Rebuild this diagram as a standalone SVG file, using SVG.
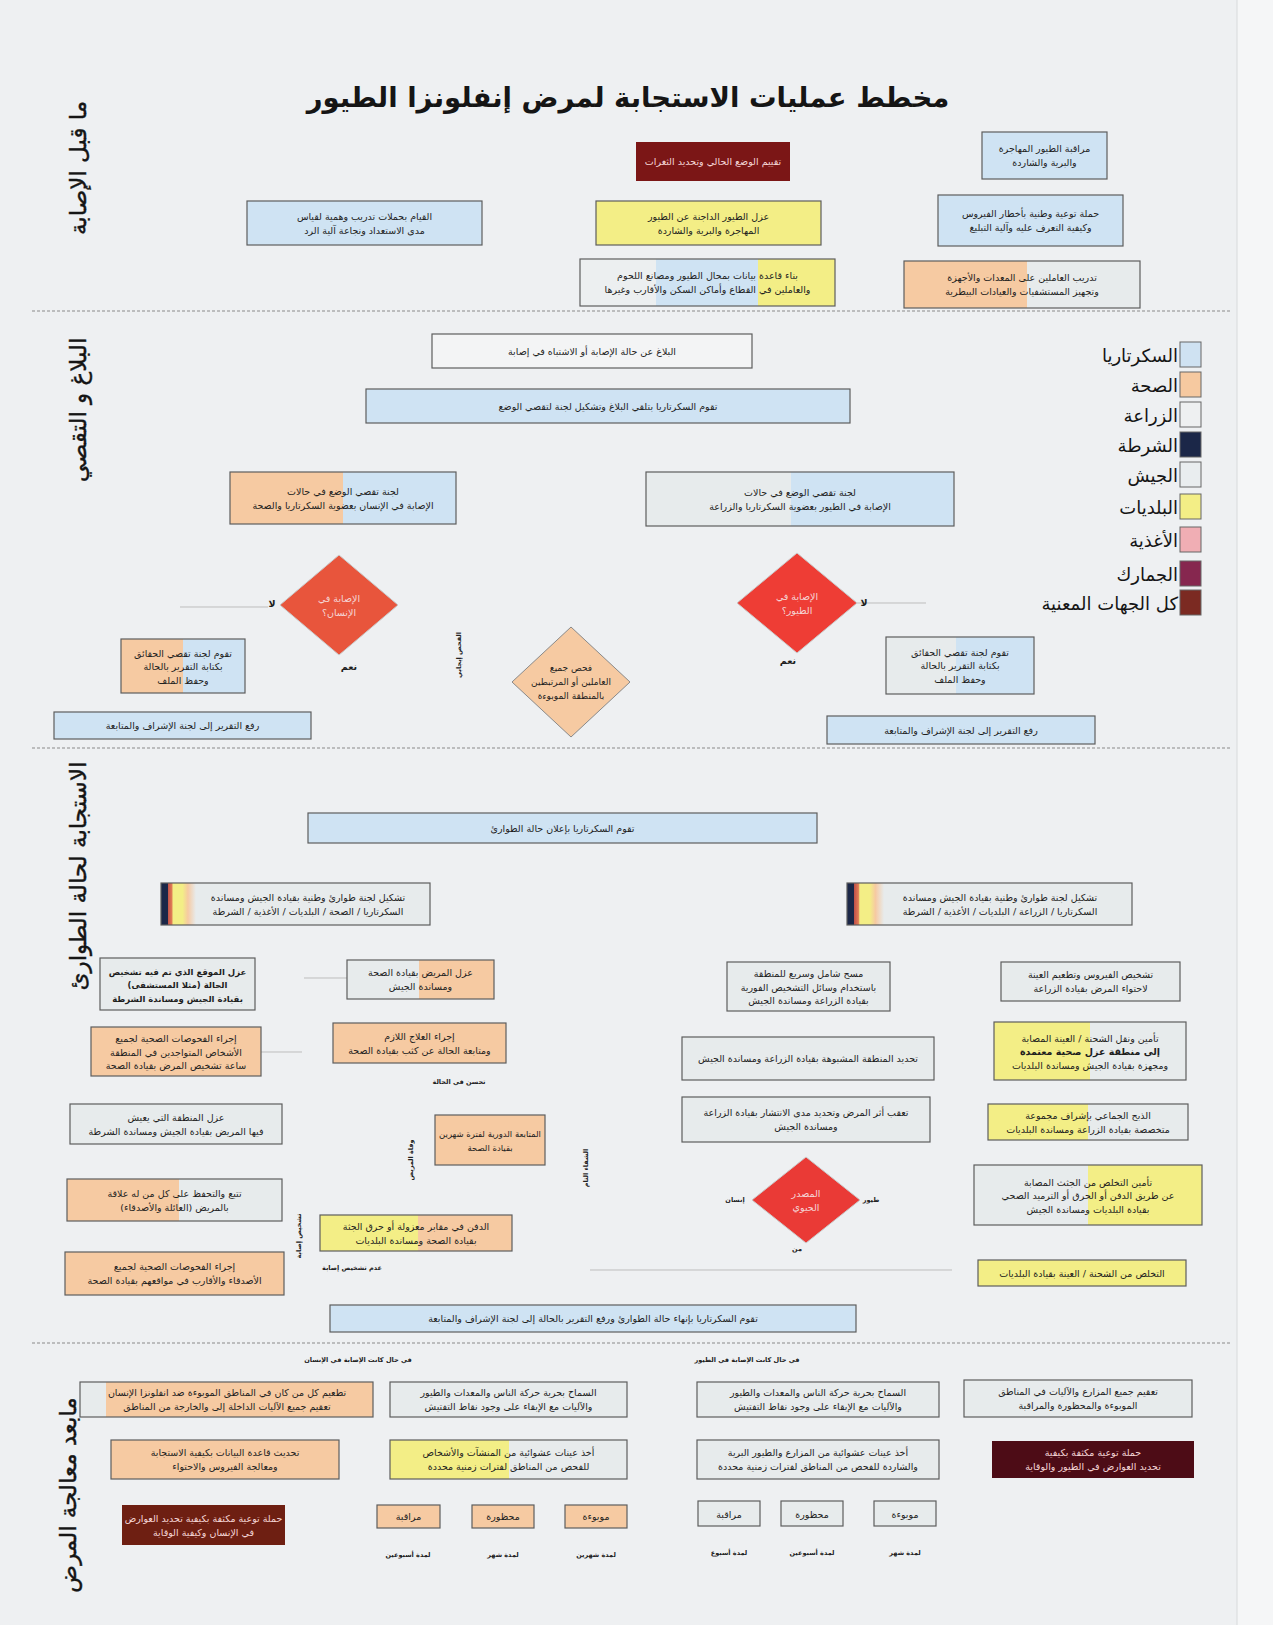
<svg xmlns="http://www.w3.org/2000/svg" width="1273" height="1625" viewBox="0 0 1273 1625">
<style>
.bx{stroke:#5e5e5e;stroke-width:1.2}
.t{font-family:"DejaVu Sans",sans-serif;font-size:9.5px;fill:#1e1e1e;text-anchor:middle;direction:rtl}
.tb{font-weight:bold}
.tw{fill:#f5d6d6}
.sm{font-family:"DejaVu Sans",sans-serif;font-size:6.5px;fill:#222;text-anchor:middle;direction:rtl;font-weight:bold}
.sec{font-family:"DejaVu Sans",sans-serif;font-size:23px;fill:#151515;text-anchor:middle;direction:rtl;stroke:#151515;stroke-width:0.4}
.lg{font-family:"DejaVu Sans",sans-serif;font-size:18px;fill:#151515;text-anchor:end}
.title{font-family:"DejaVu Sans",sans-serif;font-size:27.5px;font-weight:bold;fill:#151515;text-anchor:middle;direction:rtl}
.div{stroke:#8a8a8a;stroke-width:1;stroke-dasharray:3 2}
.con{stroke:#bdbdbd;stroke-width:1;fill:none}
.blue{fill:#cfe3f3}.peach{fill:#f6caa2}.gray{fill:#e7ebec}.yellow{fill:#f3ee86}.white{fill:#f3f4f5}
</style>
<defs>
<linearGradient id="gPB" x1="0" x2="1" y1="0" y2="0"><stop offset="0.5" stop-color="#f6caa2"/><stop offset="0.5" stop-color="#cfe3f3"/></linearGradient>
<linearGradient id="gGB" x1="0" x2="1" y1="0" y2="0"><stop offset="0.47" stop-color="#e7ebec"/><stop offset="0.47" stop-color="#cfe3f3"/></linearGradient>
<linearGradient id="gGPe" x1="0" x2="1" y1="0" y2="0"><stop offset="0.49" stop-color="#e7ebec"/><stop offset="0.49" stop-color="#f6caa2"/></linearGradient>
<linearGradient id="gGPe2" x1="0" x2="1" y1="0" y2="0"><stop offset="0.09" stop-color="#e7ebec"/><stop offset="0.09" stop-color="#f6caa2"/></linearGradient>
<linearGradient id="gPeG" x1="0" x2="1" y1="0" y2="0"><stop offset="0.52" stop-color="#f6caa2"/><stop offset="0.52" stop-color="#e7ebec"/></linearGradient>
<linearGradient id="gYPe" x1="0" x2="1" y1="0" y2="0"><stop offset="0.51" stop-color="#f3ee86"/><stop offset="0.51" stop-color="#f6caa2"/></linearGradient>
<linearGradient id="gYG" x1="0" x2="1" y1="0" y2="0"><stop offset="0.5" stop-color="#f3ee86"/><stop offset="0.5" stop-color="#e7ebec"/></linearGradient>
<linearGradient id="gGY" x1="0" x2="1" y1="0" y2="0"><stop offset="0.5" stop-color="#e7ebec"/><stop offset="0.5" stop-color="#f3ee86"/></linearGradient>
<linearGradient id="gWBY" x1="0" x2="1" y1="0" y2="0"><stop offset="0.3" stop-color="#eceff0"/><stop offset="0.3" stop-color="#cfe3f3"/><stop offset="0.7" stop-color="#cfe3f3"/><stop offset="0.7" stop-color="#f3ee86"/></linearGradient>
<linearGradient id="gStripe" x1="0" x2="1" y1="0" y2="0"><stop offset="0" stop-color="#1b2748"/><stop offset="0.025" stop-color="#1b2748"/><stop offset="0.025" stop-color="#c0504a"/><stop offset="0.04" stop-color="#e07a55"/><stop offset="0.045" stop-color="#f3ee86"/><stop offset="0.08" stop-color="#f3ee86"/><stop offset="0.1" stop-color="#f6caa2"/><stop offset="0.13" stop-color="#e7ebec"/><stop offset="1" stop-color="#e7ebec"/></linearGradient>
</defs>

<rect x="0" y="0" width="1273" height="1625" fill="#eef0f2"/>
<rect x="1237" y="0" width="36" height="1625" fill="#f5f6f7"/>
<line x1="1237" y1="0" x2="1237" y2="1625" stroke="#d8dadc" stroke-width="1"/>

<text class="title" x="628" y="107">مخطط عمليات الاستجابة لمرض إنفلونزا الطيور</text>

<g id="dividers">
<line class="div" x1="32" y1="311" x2="1232" y2="311"/>
<line class="div" x1="32" y1="748" x2="1232" y2="748"/>
<line class="div" x1="32" y1="1343" x2="1232" y2="1343"/>
</g>

<g id="legend">
<rect x="1180" y="342" width="21" height="25" fill="#cfe2f2" stroke="#666"/><text class="lg" x="1178" y="362">السكرتاريا</text>
<rect x="1180" y="372" width="21" height="25" fill="#f6c9a0" stroke="#666"/><text class="lg" x="1178" y="392">الصحة</text>
<rect x="1180" y="402" width="21" height="25" fill="#eef0f1" stroke="#666"/><text class="lg" x="1178" y="422">الزراعة</text>
<rect x="1180" y="432" width="21" height="25" fill="#1b2748" stroke="#666"/><text class="lg" x="1178" y="452">الشرطة</text>
<rect x="1180" y="462" width="21" height="25" fill="#e9edef" stroke="#666"/><text class="lg" x="1178" y="482">الجيش</text>
<rect x="1180" y="494" width="21" height="25" fill="#f3ee86" stroke="#666"/><text class="lg" x="1178" y="514">البلديات</text>
<rect x="1180" y="527" width="21" height="25" fill="#f0aeb4" stroke="#666"/><text class="lg" x="1178" y="547">الأغذية</text>
<rect x="1180" y="561" width="21" height="25" fill="#86274f" stroke="#666"/><text class="lg" x="1178" y="581">الجمارك</text>
<rect x="1180" y="590" width="21" height="25" fill="#7b2a22" stroke="#666"/><text class="lg" x="1178" y="610">كل الجهات المعنية</text>
</g>

<g id="connectors">
<line class="con" x1="180" y1="607" x2="268" y2="607"/>
<line class="con" x1="857" y1="603" x2="926" y2="603"/>
<line class="con" x1="304" y1="978" x2="347" y2="978"/>
<line class="con" x1="261" y1="1052" x2="302" y2="1052"/>
<line class="con" x1="590" y1="1270" x2="952" y2="1270"/>
</g>

<g id="n1"><rect x="636" y="142" width="154" height="39" fill="#7b1616"/><text class="t tw" x="713" y="165">تقييم الوضع الحالي وتحديد الثغرات</text></g>
<g id="n2"><rect class="bx blue" x="982" y="132" width="125" height="47"/><text class="t" x="1044.5" y="152">مراقبة الطيور المهاجرة</text><text class="t" x="1044.5" y="166">والبرية والشاردة</text></g>
<g id="n3"><rect class="bx blue" x="247" y="201" width="235" height="44"/><text class="t" x="364.5" y="219.5">القيام بحملات تدريب وهمية لقياس</text><text class="t" x="364.5" y="233.5">مدى الاستعداد ونجاعة آلية الرد</text></g>
<g id="n4"><rect class="bx yellow" x="596" y="201" width="225" height="44"/><text class="t" x="708.5" y="219.5">عزل الطيور الداجنة عن الطيور</text><text class="t" x="708.5" y="233.5">المهاجرة والبرية والشاردة</text></g>
<g id="n5"><rect class="bx blue" x="938" y="195" width="185" height="51"/><text class="t" x="1030.5" y="217">حملة توعية وطنية بأخطار الفيروس</text><text class="t" x="1030.5" y="231">وكيفية التعرف عليه وآلية التبليغ</text></g>
<g id="n6"><rect class="bx" fill="url(#gWBY)" x="580" y="259" width="255" height="47"/><text class="t" x="707.5" y="279">بناء قاعدة بيانات بمحال الطيور ومصانع اللحوم</text><text class="t" x="707.5" y="293">والعاملين في القطاع وأماكن السكن والأقارب وغيرها</text></g>
<g id="n7"><rect class="bx" fill="url(#gPeG)" x="904" y="261" width="236" height="47"/><text class="t" x="1022" y="281">تدريب العاملين على المعدات والأجهزة</text><text class="t" x="1022" y="295">وتجهيز المستشفيات والعيادات البيطرية</text></g>

<g id="n8"><rect class="bx white" x="432" y="334" width="320" height="34"/><text class="t" x="592" y="354.5">البلاغ عن حالة الإصابة أو الاشتباه في إصابة</text></g>
<g id="n9"><rect class="bx blue" x="366" y="389" width="484" height="34"/><text class="t" x="608" y="409.5">تقوم السكرتاريا بتلقي البلاغ وتشكيل لجنة لتقصي الوضع</text></g>
<g id="n10"><rect class="bx" fill="url(#gPB)" x="230" y="472" width="226" height="52"/><text class="t" x="343" y="494.5">لجنة تقصي الوضع في حالات</text><text class="t" x="343" y="508.5">الإصابة في الإنسان بعضوية السكرتاريا والصحة</text></g>
<g id="n11"><rect class="bx" fill="url(#gGB)" x="646" y="472" width="308" height="54"/><text class="t" x="800" y="495.5">لجنة تقصي الوضع في حالات</text><text class="t" x="800" y="509.5">الإصابة في الطيور بعضوية السكرتاريا والزراعة</text></g>

<g id="d1"><polygon points="339,555 398,605 339,655 280,605" fill="#e8553c" stroke="#c9c9c9"/><text class="t tw" x="339" y="602">الإصابة في</text><text class="t tw" x="339" y="616">الإنسان؟</text></g>
<g id="d2"><polygon points="797,553 857,603 797,653 737,603" fill="#ee3d35" stroke="#c9c9c9"/><text class="t tw" x="797" y="600">الإصابة في</text><text class="t tw" x="797" y="614">الطيور؟</text></g>
<g id="d3"><polygon points="571,627 630,682 571,737 512,682" fill="#f6caa2" stroke="#8a8a8a"/><text class="t" x="571" y="671" style="font-size:9px">فحص جميع</text><text class="t" x="571" y="685" style="font-size:9px">العاملين أو المرتبطين</text><text class="t" x="571" y="699" style="font-size:9px">بالمنطقة الموبوءة</text></g>
<g id="lbl-d"><text class="t tb" x="272" y="607">لا</text><text class="t tb" x="349" y="670">نعم</text><text class="t tb" x="864" y="606">لا</text><text class="t tb" x="788" y="664">نعم</text><text class="sm" transform="translate(461,655) rotate(-90)">الفحص إيجابي</text></g>

<g id="n12"><rect class="bx" fill="url(#gPB)" x="121" y="639" width="124" height="54"/><text class="t" x="183" y="656.5">تقوم لجنة تقصي الحقائق</text><text class="t" x="183" y="670">بكتابة التقرير بالحالة</text><text class="t" x="183" y="683.5">وحفظ الملف</text></g>
<g id="n13"><rect class="bx" fill="url(#gGB)" x="886" y="637" width="148" height="57"/><text class="t" x="960" y="655.5">تقوم لجنة تقصي الحقائق</text><text class="t" x="960" y="669">بكتابة التقرير بالحالة</text><text class="t" x="960" y="682.5">وحفظ الملف</text></g>
<g id="n14"><rect class="bx blue" x="54" y="712" width="257" height="27"/><text class="t" x="182.5" y="729">رفع التقرير إلى لجنة الإشراف والمتابعة</text></g>
<g id="n15"><rect class="bx blue" x="827" y="716" width="268" height="28"/><text class="t" x="961" y="733.5">رفع التقرير إلى لجنة الإشراف والمتابعة</text></g>

<g id="n16"><rect class="bx blue" x="308" y="813" width="509" height="30"/><text class="t" x="562.5" y="831.5">تقوم السكرتاريا بإعلان حالة الطوارئ</text></g>
<g id="n17"><rect class="bx" fill="url(#gStripe)" x="161" y="883" width="269" height="42"/><text class="t" x="308" y="900.5">تشكيل لجنة طوارئ وطنية بقيادة الجيش ومساندة</text><text class="t" x="308" y="914.5">السكرتاريا / الصحة / البلديات / الأغذية / الشرطة</text></g>
<g id="n18"><rect class="bx" fill="url(#gStripe)" x="847" y="883" width="285" height="42"/><text class="t" x="1000" y="900.5">تشكيل لجنة طوارئ وطنية بقيادة الجيش ومساندة</text><text class="t" x="1000" y="914.5">السكرتاريا / الزراعة / البلديات / الأغذية / الشرطة</text></g>

<g id="n19"><rect class="bx gray" x="100" y="958" width="155" height="52"/><text class="t tb" x="177.5" y="974.5" style="font-size:8.5px">عزل الموقع الذي تم فيه تشخيص</text><text class="t tb" x="177.5" y="988" style="font-size:8.5px">الحالة (مثلا المستشفى)</text><text class="t tb" x="177.5" y="1001.5" style="font-size:8.5px">بقيادة الجيش ومساندة الشرطة</text></g>
<g id="n20"><rect class="bx" fill="url(#gGPe)" x="347" y="960" width="147" height="39"/><text class="t" x="420.5" y="976">عزل المريض بقيادة الصحة</text><text class="t" x="420.5" y="990">ومساندة الجيش</text></g>
<g id="n21"><rect class="bx peach" x="91" y="1027" width="170" height="49"/><text class="t" x="176" y="1042">إجراء الفحوصات الصحية لجميع</text><text class="t" x="176" y="1055.5">الأشخاص المتواجدين في المنطقة</text><text class="t" x="176" y="1069">ساعة تشخيص المرض بقيادة الصحة</text></g>
<g id="n22"><rect class="bx peach" x="333" y="1023" width="173" height="40"/><text class="t" x="419.5" y="1039.5">إجراء العلاج اللازم</text><text class="t" x="419.5" y="1053.5">ومتابعة الحالة عن كثب بقيادة الصحة</text></g>
<text class="sm" x="459" y="1084">تحسن في الحالة</text>
<g id="n23"><rect class="bx gray" x="70" y="1104" width="212" height="40"/><text class="t" x="176" y="1120.5">عزل المنطقة التي يعيش</text><text class="t" x="176" y="1134.5">فيها المريض بقيادة الجيش ومساندة الشرطة</text></g>
<g id="n24"><rect class="bx peach" x="435" y="1115" width="110" height="50"/><text class="t" x="490" y="1136.5" style="font-size:8.5px">المتابعة الدورية لفترة شهرين</text><text class="t" x="490" y="1150.5" style="font-size:8.5px">بقيادة الصحة</text></g>
<text class="sm" transform="translate(413,1160) rotate(-90)">وفاة المريض</text>
<text class="sm" transform="translate(588,1168) rotate(-90)">الشفاء التام</text>
<g id="n25"><rect class="bx" fill="url(#gPeG)" x="67" y="1179" width="215" height="42"/><text class="t" x="174.5" y="1196.5">تتبع والتحفظ على كل من له علاقة</text><text class="t" x="174.5" y="1210.5">بالمريض (العائلة والأصدقاء)</text></g>
<g id="n26"><rect class="bx" fill="url(#gYPe)" x="320" y="1215" width="192" height="36"/><text class="t" x="416" y="1229.5">الدفن في مقابر معزولة أو حرق الجثة</text><text class="t" x="416" y="1243.5">بقيادة الصحة ومساندة البلديات</text></g>
<text class="sm" transform="translate(301,1236) rotate(-90)">تشخيص إصابة</text>
<text class="sm" x="352" y="1270">عدم تشخيص إصابة</text>
<g id="n27"><rect class="bx peach" x="65" y="1252" width="219" height="43"/><text class="t" x="174.5" y="1270">إجراء الفحوصات الصحية لجميع</text><text class="t" x="174.5" y="1284">الأصدقاء والأقارب في مواقعهم بقيادة الصحة</text></g>
<g id="n28"><rect class="bx blue" x="330" y="1305" width="526" height="27"/><text class="t" x="593" y="1322">تقوم السكرتاريا بإنهاء حالة الطوارئ ورفع التقرير بالحالة إلى لجنة الإشراف والمتابعة</text></g>

<g id="n29"><rect class="bx gray" x="727" y="962" width="163" height="49"/><text class="t" x="808.5" y="977">مسح شامل وسريع للمنطقة</text><text class="t" x="808.5" y="990.5">باستخدام وسائل التشخيص الفورية</text><text class="t" x="808.5" y="1004">بقيادة الزراعة ومساندة الجيش</text></g>
<g id="n30"><rect class="bx gray" x="1001" y="962" width="179" height="39"/><text class="t" x="1090.5" y="978">تشخيص الفيروس وتطعيم العينة</text><text class="t" x="1090.5" y="992">لاحتواء المرض بقيادة الزراعة</text></g>
<g id="n31"><rect class="bx gray" x="682" y="1037" width="252" height="43"/><text class="t" x="808" y="1062">تحديد المنطقة المشبوهة بقيادة الزراعة ومساندة الجيش</text></g>
<g id="n32"><rect class="bx" fill="url(#gYG)" x="994" y="1022" width="192" height="58"/><text class="t" x="1090" y="1041.5">تأمين ونقل الشحنة / العينة المصابة</text><text class="t tb" x="1090" y="1055">إلى منطقة عزل صحية معتمدة</text><text class="t" x="1090" y="1068.5">ومجهزة بقيادة الجيش ومساندة البلديات</text></g>
<g id="n33"><rect class="bx gray" x="682" y="1097" width="248" height="45"/><text class="t" x="806" y="1116">تعقب أثر المرض وتحديد مدى الانتشار بقيادة الزراعة</text><text class="t" x="806" y="1130">ومساندة الجيش</text></g>
<g id="n34"><rect class="bx" fill="url(#gYG)" x="988" y="1104" width="200" height="36"/><text class="t" x="1088" y="1118.5">الذبح الجماعي بإشراف مجموعة</text><text class="t" x="1088" y="1132.5">متخصصة بقيادة الزراعة ومساندة البلديات</text></g>
<g id="d4"><polygon points="806,1157 860,1200 806,1243 752,1200" fill="#ea3a36" stroke="#c9c9c9"/><text class="t tw" x="806" y="1197">المصدر</text><text class="t tw" x="806" y="1211">الحيوي</text></g>
<text class="sm" x="735" y="1202">إنسان</text>
<text class="sm" x="871" y="1202">طيور</text>
<text class="sm" x="797" y="1251">من</text>
<g id="n35"><rect class="bx" fill="url(#gGY)" x="974" y="1165" width="228" height="60"/><text class="t" x="1088" y="1185.5">تأمين التخلص من الجثث المصابة</text><text class="t" x="1088" y="1199">عن طريق الدفن أو الحرق أو الترميد الصحي</text><text class="t" x="1088" y="1212.5">بقيادة البلديات ومساندة الجيش</text></g>
<g id="n36"><rect class="bx yellow" x="978" y="1260" width="208" height="26"/><text class="t" x="1082" y="1276.5">التخلص من الشحنة / العينة بقيادة البلديات</text></g>

<text class="sm" x="358" y="1362">في حال كانت الإصابة في الإنسان</text>
<text class="sm" x="747" y="1362">في حال كانت الإصابة في الطيور</text>
<g id="n37"><rect class="bx" fill="url(#gGPe2)" x="80" y="1382" width="293" height="35"/><text class="t" x="227" y="1396">تطعيم كل من كان في المناطق الموبوءة ضد انفلونزا الإنسان</text><text class="t" x="227" y="1410">تعقيم جميع الآليات الداخلة إلى والخارجة من المناطق</text></g>
<g id="n38"><rect class="bx gray" x="390" y="1382" width="237" height="35"/><text class="t" x="508.5" y="1396">السماح بحرية حركة الناس والمعدات والطيور</text><text class="t" x="508.5" y="1410">والآليات مع الإبقاء على وجود نقاط التفتيش</text></g>
<g id="n39"><rect class="bx gray" x="697" y="1382" width="242" height="35"/><text class="t" x="818" y="1396">السماح بحرية حركة الناس والمعدات والطيور</text><text class="t" x="818" y="1410">والآليات مع الإبقاء على وجود نقاط التفتيش</text></g>
<g id="n40"><rect class="bx gray" x="964" y="1380" width="228" height="37"/><text class="t" x="1078" y="1395">تعقيم جميع المزارع والآليات في المناطق</text><text class="t" x="1078" y="1409">الموبوءة والمحظورة والمراقبة</text></g>
<g id="n41"><rect class="bx peach" x="111" y="1440" width="228" height="39"/><text class="t" x="225" y="1456">تحديث قاعدة البيانات بكيفية الاستجابة</text><text class="t" x="225" y="1470">ومعالجة الفيروس والاحتواء</text></g>
<g id="n42"><rect class="bx" fill="url(#gYG)" x="390" y="1440" width="237" height="39"/><text class="t" x="508.5" y="1456">أخذ عينات عشوائية من المنشآت والأشخاص</text><text class="t" x="508.5" y="1470">للفحص من المناطق لفترات زمنية محددة</text></g>
<g id="n43"><rect class="bx gray" x="697" y="1440" width="242" height="39"/><text class="t" x="818" y="1456">أخذ عينات عشوائية من المزارع والطيور البرية</text><text class="t" x="818" y="1470">والشاردة للفحص من المناطق لفترات زمنية محددة</text></g>
<g id="n44"><rect x="992" y="1441" width="202" height="37" fill="#4d0c16"/><text class="t tw" x="1093" y="1456">حملة توعية مكثفة بكيفية</text><text class="t tw" x="1093" y="1470">تحديد العوارض في الطيور والوقاية</text></g>
<g id="n45"><rect x="122" y="1505" width="163" height="40" fill="#6e1f12"/><text class="t tw" x="203.5" y="1521.5">حملة توعية مكثفة بكيفية تحديد العوارض</text><text class="t tw" x="203.5" y="1535.5">في الإنسان وكيفية الوقاية</text></g>

<g id="h-mon"><rect class="bx peach" x="377" y="1505" width="63" height="23"/><text class="t" x="408.5" y="1520">مراقبة</text></g>
<g id="h-res"><rect class="bx peach" x="472" y="1505" width="62" height="23"/><text class="t" x="503" y="1520">محظورة</text></g>
<g id="h-inf"><rect class="bx peach" x="565" y="1505" width="62" height="23"/><text class="t" x="596" y="1520">موبوءة</text></g>
<text class="sm" x="408" y="1557">لمدة أسبوعين</text>
<text class="sm" x="503" y="1557">لمدة شهر</text>
<text class="sm" x="596" y="1557">لمدة شهرين</text>
<g id="b-mon"><rect class="bx gray" x="698" y="1501" width="62" height="25"/><text class="t" x="729" y="1517.5">مراقبة</text></g>
<g id="b-res"><rect class="bx gray" x="781" y="1501" width="62" height="25"/><text class="t" x="812" y="1517.5">محظورة</text></g>
<g id="b-inf"><rect class="bx gray" x="874" y="1501" width="62" height="25"/><text class="t" x="905" y="1517.5">موبوءة</text></g>
<text class="sm" x="729" y="1555">لمدة أسبوع</text>
<text class="sm" x="812" y="1555">لمدة أسبوعين</text>
<text class="sm" x="905" y="1555">لمدة شهر</text>

<g id="section-labels">
<text class="sec" transform="translate(86,168) rotate(-90)">ما قبل الإصابة</text>
<text class="sec" transform="translate(86,410) rotate(-90)">البلاغ و التقصي</text>
<text class="sec" transform="translate(86,876) rotate(-90)">الاستجابة لحالة الطوارئ</text>
<text class="sec" transform="translate(76,1495) rotate(-90)">مابعد معالجة المرض</text>
</g>
</svg>
